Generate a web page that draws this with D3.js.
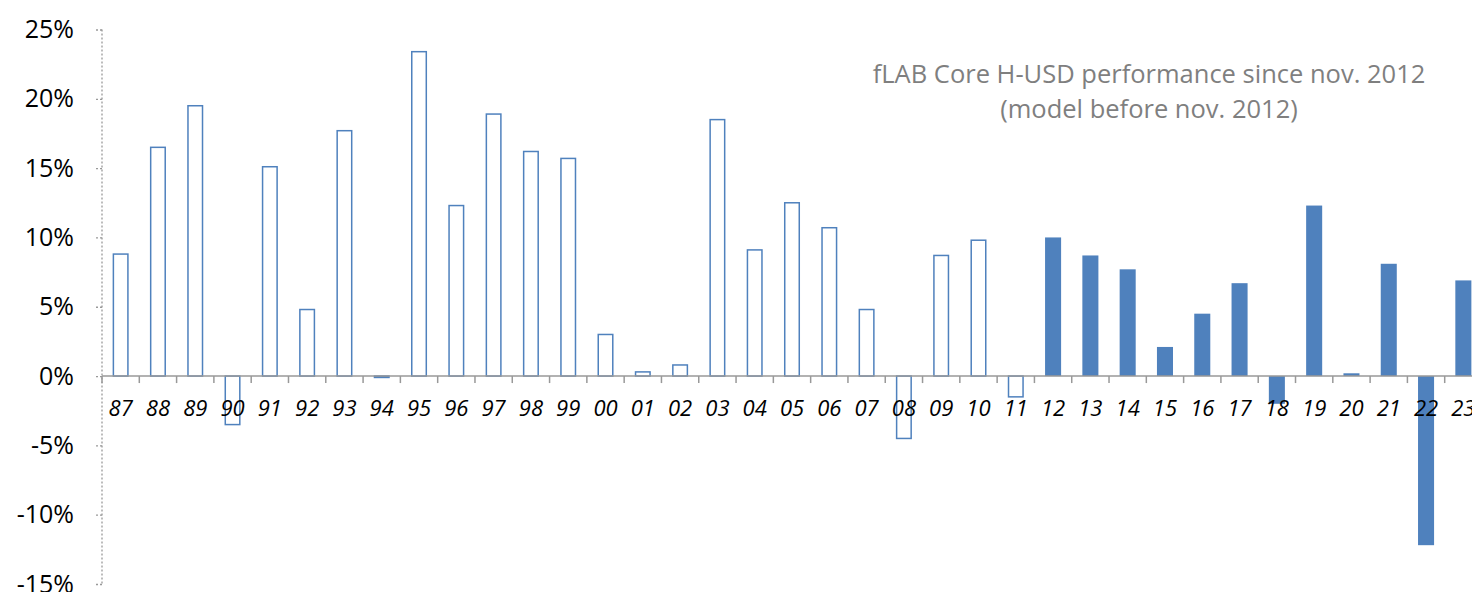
<!DOCTYPE html>
<html>
<head>
<meta charset="utf-8">
<script src="https://cdn.jsdelivr.net/npm/d3@7"></script>
<style>
  body { margin: 0; background: #fff; }
  svg { display: block; font-family: "Open Sans", sans-serif; }
</style>
</head>
<body>
<div id="chart"></div>
<script>
// years (two digit labels) and yearly performance in %
var years = ["87","88","89","90","91","92","93","94","95","96","97","98","99","00","01","02","03","04","05","06","07","08","09","10","11","12","13","14","15","16","17","18","19","20","21","22","23"];
var returns = [8.8, 16.5, 19.5, -3.5, 15.1, 4.8, 17.7, -0.1, 23.4, 12.3, 18.9, 16.2, 15.7, 3.0, 0.3, 0.8, 18.5, 9.1, 12.5, 10.7, 4.8, -4.5, 8.7, 9.8, -1.5, 10.0, 8.7, 7.7, 2.1, 4.5, 6.7, -2.0, 12.3, 0.2, 8.1, -12.2, 6.9];
// first year of live track record (filled bars), earlier years are the model
var firstLive = "12";
var yTicks = [25, 20, 15, 10, 5, 0, -5, -10, -15];
var titleLines = ["fLAB Core H-USD performance since nov. 2012", "(model before nov. 2012)"];

var w = 1472, h = 592;
var blue = "#4f81bd";

var svg = d3.select("#chart").append("svg").attr("width", w).attr("height", h);

var xScale = d3.scaleBand().domain(years).range([102, 1482]).paddingInner(0.57).paddingOuter(0.285);
var yScale = d3.scaleLinear().domain([-15, 25]).range([584, 29.5]);

var liveIndex = years.indexOf(firstLive);
var data = years.map(function(y, i) { return { year: y, value: returns[i], live: i >= liveIndex }; });

// y axis, dotted grey line with short dotted ticks
var yAxis = d3.axisLeft(yScale).tickValues(yTicks).tickSize(8).tickPadding(20).tickFormat(function(d) { return d + "%"; });
var gy = svg.append("g").attr("transform", "translate(102,0)").call(yAxis)
  .attr("font-family", "'Open Sans', sans-serif").attr("font-size", 25);
gy.select(".domain").attr("d", "M0," + yScale(25) + "V" + yScale(-15)).attr("stroke", "#999").attr("stroke-dasharray", "2,2").attr("stroke-width", 1.3);
gy.selectAll(".tick line").attr("stroke", "#999").attr("stroke-dasharray", "2,2").attr("stroke-width", 1.3);
gy.selectAll(".tick text").attr("fill", "#000");

// bars
svg.selectAll("rect.bar").data(data).enter().append("rect")
  .attr("class", "bar")
  .attr("x", function(d) { return xScale(d.year) + (d.live ? 0 : 0.75); })
  .attr("width", function(d) { return xScale.bandwidth() - (d.live ? 0 : 1.5); })
  .attr("y", function(d) { return d.value >= 0 ? yScale(d.value) : yScale(0); })
  .attr("height", function(d) { return Math.max(1, Math.abs(yScale(d.value) - yScale(0))); })
  .attr("fill", function(d) { return d.live ? blue : "#fff"; })
  .attr("stroke", function(d) { return d.live ? "none" : blue; })
  .attr("stroke-width", 1.5);

// x axis at zero: grey line, ticks between categories
var step = xScale.step();
var boundaries = years.map(function(y, i) { return 102 + i * step; });
var gx = svg.append("g");
gx.append("line").attr("x1", 102).attr("x2", 1482).attr("y1", yScale(0)).attr("y2", yScale(0)).attr("stroke", "#999").attr("stroke-width", 1.5);
gx.selectAll("line.xt").data(boundaries).enter().append("line")
  .attr("class", "xt")
  .attr("x1", function(d) { return d; }).attr("x2", function(d) { return d; })
  .attr("y1", yScale(0)).attr("y2", yScale(0) + 7)
  .attr("stroke", "#999").attr("stroke-width", 1.5);
gx.selectAll("text").data(years).enter().append("text")
  .attr("x", function(d) { return xScale(d) + xScale.bandwidth() / 2; })
  .attr("y", yScale(0) + 40)
  .attr("text-anchor", "middle")
  .style("font-size", "22px").style("font-style", "italic").attr("fill", "#000")
  .text(function(d) { return d; });

// title
svg.selectAll("text.title").data(titleLines).enter().append("text")
  .attr("class", "title")
  .attr("x", 1149)
  .attr("y", function(d, i) { return 83 + i * 35; })
  .attr("text-anchor", "middle")
  .style("font-size", "25.5px").attr("fill", "#7f7f7f")
  .text(function(d) { return d; });
</script>
</body>
</html>
